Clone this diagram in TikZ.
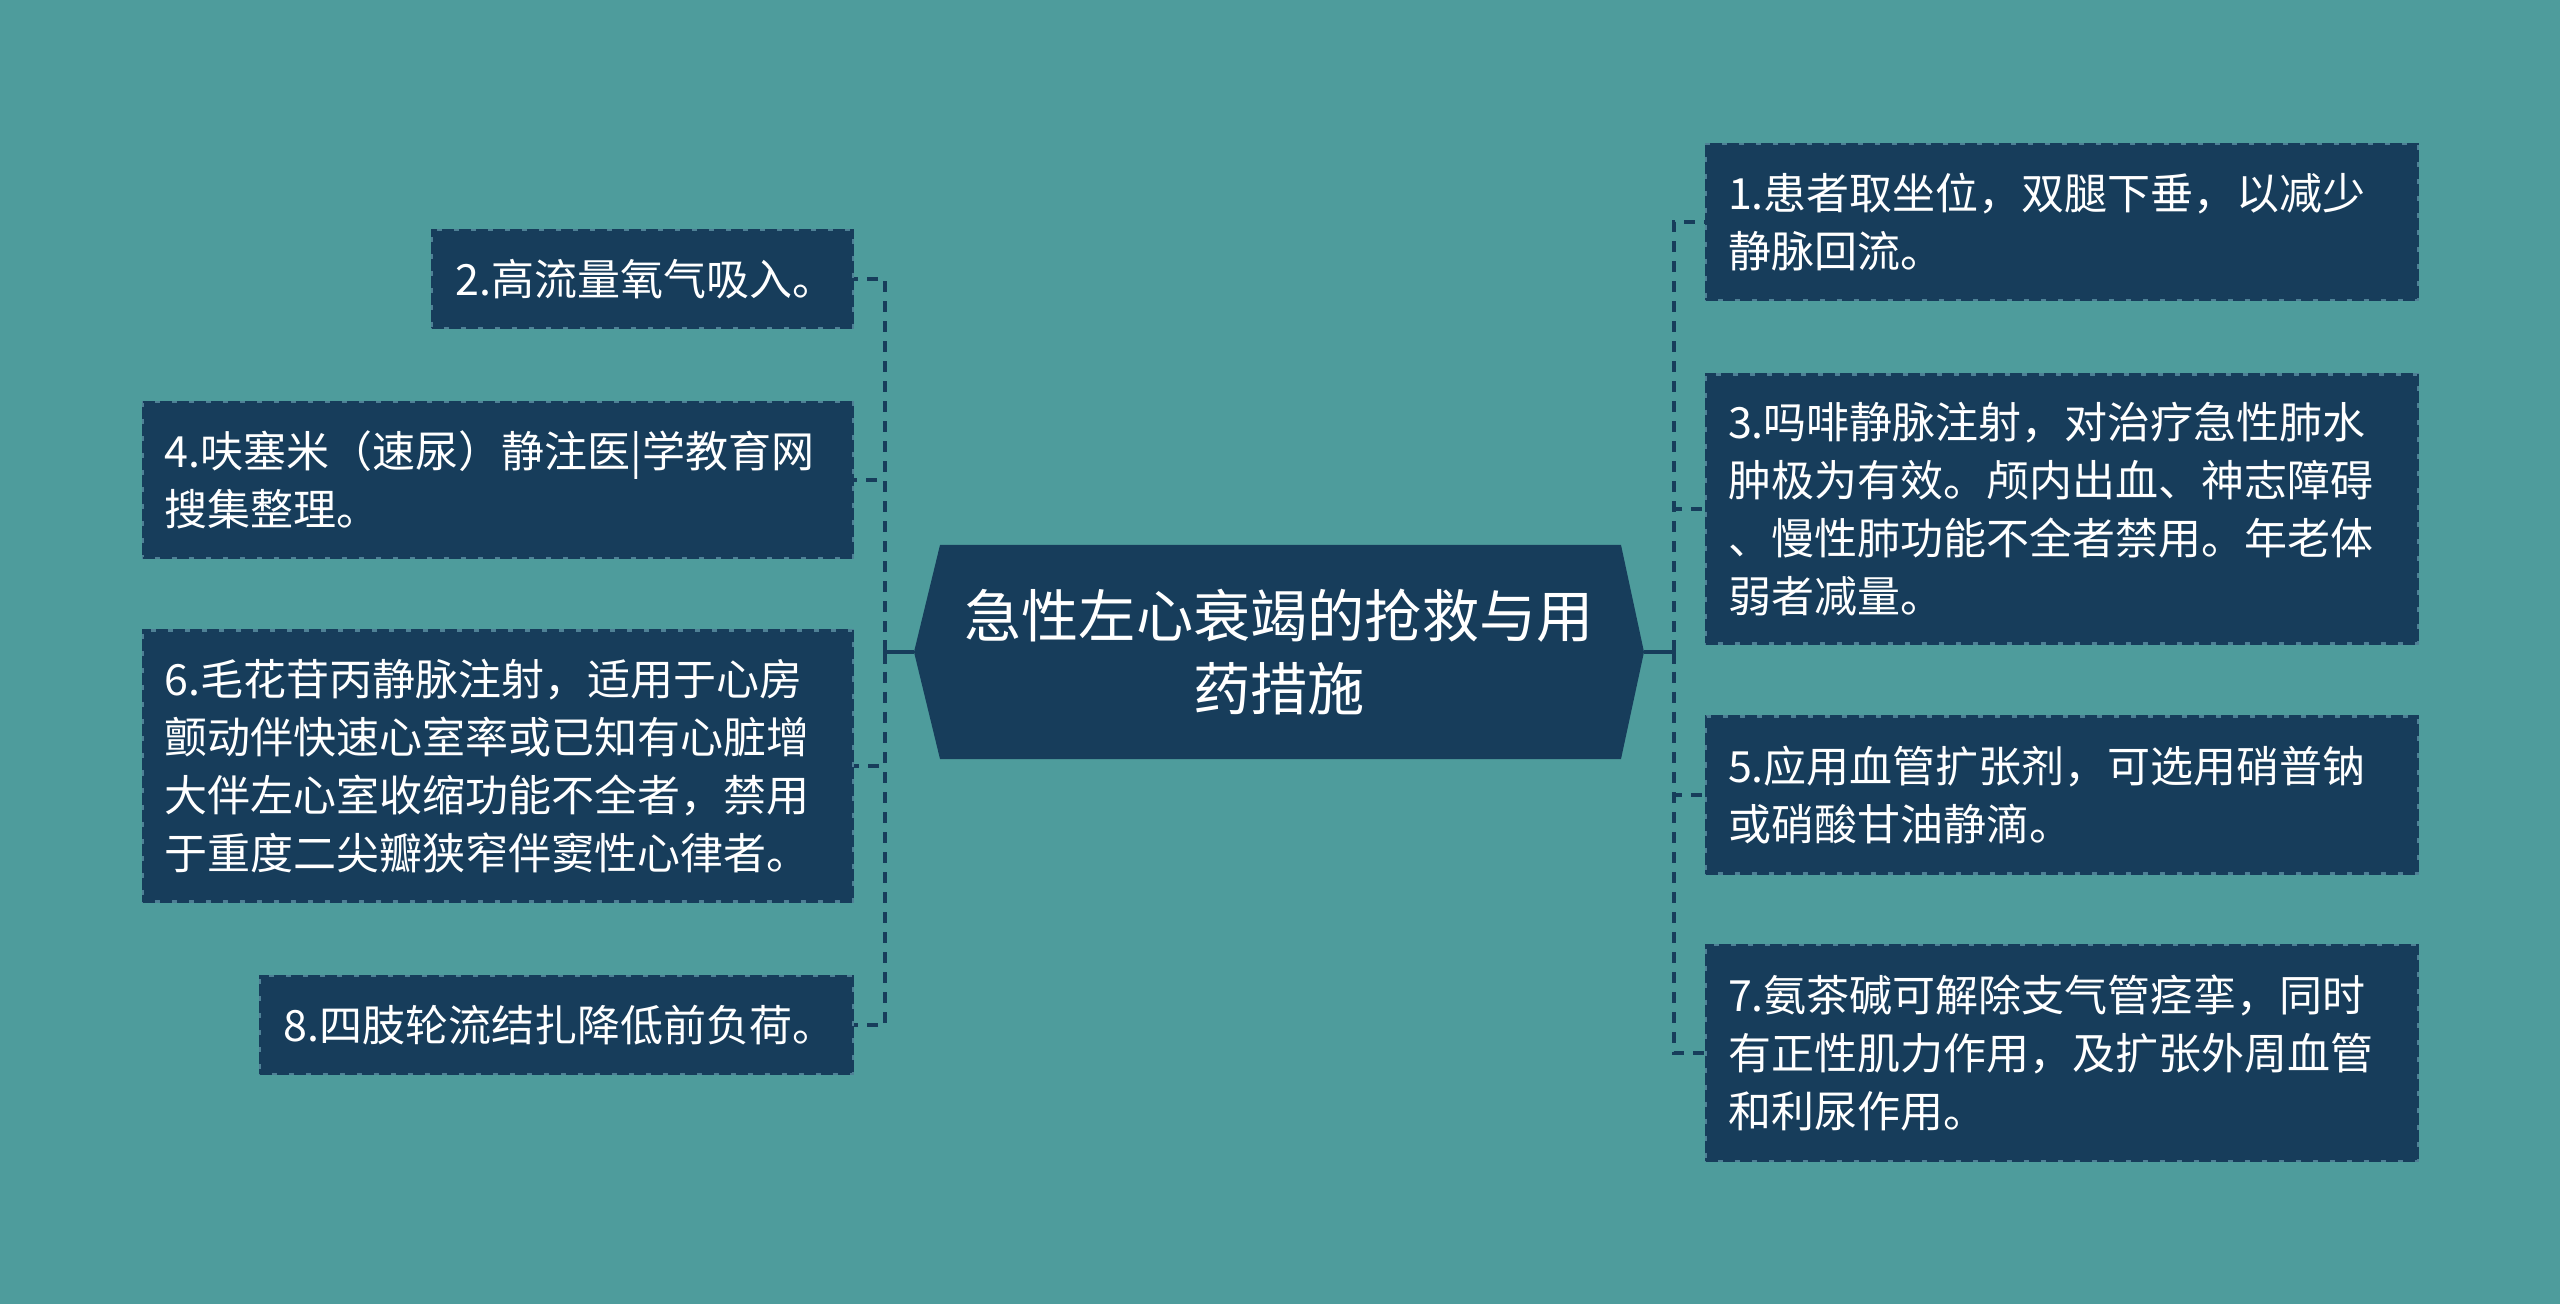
\documentclass[tikz,border=0pt]{standalone}
\usepackage{fontspec}
\setmainfont{Noto Sans CJK SC}
\definecolor{bg}{HTML}{4E9C9C}
\definecolor{navy}{HTML}{173D5B}
\definecolor{edge}{HTML}{4F8196}
\tikzset{
  leaf/.style={fill=navy, draw=edge, line width=1.1pt,
    postaction={draw=navy, line width=1.2pt, dash pattern=on 6pt off 2.5pt},
    text=white, align=left, inner xsep=11pt, inner ysep=0pt,
    font=\fontsize{21.5pt}{29pt}\selectfont},
  solidconn/.style={draw=navy, line width=2pt},
  dashconn/.style={draw=navy, line width=2pt, dash pattern=on 5.5pt off 4.5pt},
}
\begin{document}
\begin{tikzpicture}[x=0.5pt,y=-0.5pt]
\fill[bg] (0,0) rectangle (2560,1304);
\useasboundingbox (0,0) rectangle (2560,1304);

% central hexagon
\fill[navy] (914,652) -- (940,545) -- (1621,545) -- (1644,652) -- (1621,759) -- (940,759) -- cycle;
\node[text=white, align=center, font=\fontsize{28.6pt}{36.7pt}\selectfont] (root) at (1279,652)
  {急性左心衰竭的抢救与用\\药措施};
\coordinate (rootW) at (914,652);
\coordinate (rootE) at (1644,652);
\coordinate (jl) at (885,652);
\coordinate (jr) at (1674,652);

% right boxes
\node[leaf, anchor=west, text width=334pt, minimum height=78pt] (b1) at (1705,222)
  {1.患者取坐位，双腿下垂，以减少\\静脉回流。};
\node[leaf, anchor=west, text width=334pt, minimum height=134.5pt] (b3) at (1705,509)
  {3.吗啡静脉注射，对治疗急性肺水\\肿极为有效。颅内出血、神志障碍\\、慢性肺功能不全者禁用。年老体\\弱者减量。};
\node[leaf, anchor=west, text width=334pt, minimum height=78.5pt] (b5) at (1705,795)
  {5.应用血管扩张剂，可选用硝普钠\\或硝酸甘油静滴。};
\node[leaf, anchor=west, text width=334pt, minimum height=108pt] (b7) at (1705,1053)
  {7.氨茶碱可解除支气管痉挛，同时\\有正性肌力作用，及扩张外周血管\\和利尿作用。};

% left boxes
\node[leaf, anchor=east, inner xsep=12pt, text width=186.5pt, minimum height=49pt] (b2) at (854,279)
  {2.高流量氧气吸入。};
\node[leaf, anchor=east, text width=333pt, minimum height=78pt] (b4) at (854,480)
  {4.呋塞米（速尿）静注医|学教育网\\搜集整理。};
\node[leaf, anchor=east, text width=333pt, minimum height=135.5pt] (b6) at (854,766)
  {6.毛花苷丙静脉注射，适用于心房\\颤动伴快速心室率或已知有心脏增\\大伴左心室收缩功能不全者，禁用\\于重度二尖瓣狭窄伴窦性心律者。};
\node[leaf, anchor=east, inner xsep=12pt, text width=272.5pt, minimum height=49pt] (b8) at (854,1025)
  {8.四肢轮流结扎降低前负荷。};

% connectors
\draw[solidconn] (rootW) -- (jl);
\draw[solidconn] ([yshift=-6pt]jl) -- ([yshift=6pt]jl);
\draw[solidconn] (rootE) -- (jr);
\draw[solidconn] ([yshift=-6pt]jr) -- ([yshift=6pt]jr);
\foreach \b in {b2,b4,b6,b8} \draw[dashconn] (jl) |- (\b.east);
\foreach \b in {b1,b3,b5,b7} \draw[dashconn] (jr) |- (\b.west);
\end{tikzpicture}
\end{document}
